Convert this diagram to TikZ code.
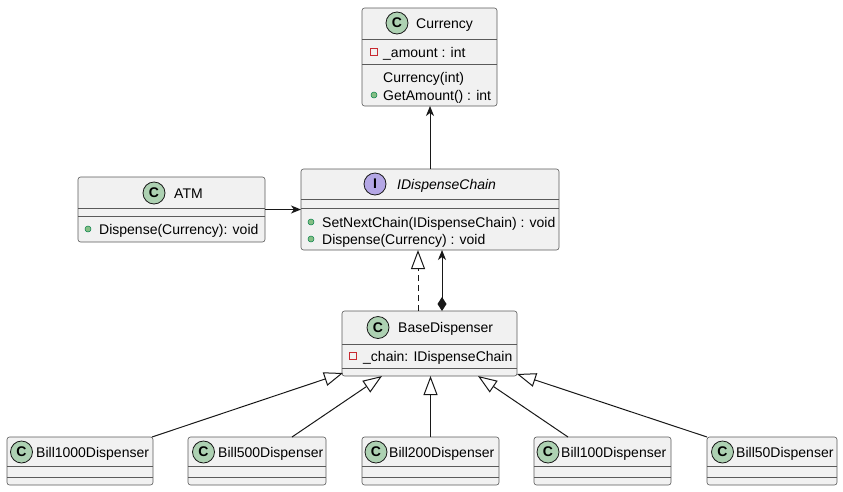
\documentclass[tikz,border=0pt]{standalone}
\usepackage{fontspec}
\setmainfont{Liberation Sans}
\usetikzlibrary{arrows.meta}
\definecolor{boxfill}{HTML}{F1F1F1}
\definecolor{boxline}{HTML}{181818}
\definecolor{frameline}{HTML}{5A5A5A}
\definecolor{classic}{HTML}{ADD1B2}
\definecolor{ific}{HTML}{B4A7E5}
\definecolor{privred}{HTML}{C82930}
\definecolor{pubfill}{HTML}{84BE84}
\definecolor{publine}{HTML}{038048}
\tikzset{
 cls/.style={draw=frameline, fill=boxfill, line width=0.6pt, rounded corners=2.5pt, anchor=north west, inner sep=0pt, outer sep=0pt},
 div/.style={draw=frameline, line width=0.6pt},
 ico/.style={circle, draw=boxline, line width=0.8pt, minimum size=22pt, inner sep=0pt, font=\fontsize{14}{14}\selectfont\bfseries},
 cico/.style={ico, fill=classic},
 iico/.style={ico, fill=ific},
 cname/.style={anchor=base west, inner sep=0pt, font=\fontsize{14}{16}\selectfont},
 mem/.style={anchor=base west, inner sep=0pt, font=\fontsize{14}{16}\selectfont},
 pub/.style={circle, fill=pubfill, draw=publine, line width=0.5pt, minimum size=6pt, inner sep=0pt},
 priv/.style={rectangle, draw=privred, line width=0.8pt, minimum size=6.5pt, inner sep=0pt},
 conn/.style={draw=boxline, line width=1pt},
 tipa/.style={-{Stealth[length=10pt,width=8pt,inset=3pt]}},
 tri/.style={-{Triangle[open,length=19pt,width=14pt,fill=white]}},
}
\begin{document}
\begin{tikzpicture}[x=1pt,y=-1pt]
\useasboundingbox (0,0) rectangle (843,491);

% Currency
\node[cls, minimum width=135pt, minimum height=98pt] (cur) at (362,8) {};
\draw[div] (362,39) -- (497,39);
\draw[div] (362,64) -- (497,64);
\node[cico] (cur-i) at (397,23) {C};
\node[cname] (cur-n) at (416,28) {Currency};
\node[priv] (cur-a1i) at (374,52) {};
\node[mem] (cur-a1) at (383,57) {\_amount : int};
\node[mem] (cur-m1) at (383,82) {Currency(int)};
\node[pub] (cur-m2i) at (374,95) {};
\node[mem] (cur-m2) at (383,100) {GetAmount() : int};

% IDispenseChain
\node[cls, minimum width=258pt, minimum height=81pt] (ids) at (301,169) {};
\draw[div] (301,199) -- (559,199);
\draw[div] (301,208) -- (559,208);
\node[iico] (ids-i) at (375,184) {I};
\node[cname, font=\fontsize{14}{16}\selectfont\itshape] (ids-n) at (397,189) {IDispenseChain};
\node[pub] (ids-m1i) at (311,222) {};
\node[mem] (ids-m1) at (322,227) {SetNextChain(IDispenseChain) : void};
\node[pub] (ids-m2i) at (311,239) {};
\node[mem] (ids-m2) at (322,244) {Dispense(Currency) : void};

% ATM
\node[cls, minimum width=187pt, minimum height=65pt] (atm) at (78,177) {};
\draw[div] (78,208) -- (265,208);
\draw[div] (78,216) -- (265,216);
\node[cico] (atm-i) at (154,193) {C};
\node[cname] (atm-n) at (174,198) {ATM};
\node[pub] (atm-m1i) at (88,229) {};
\node[mem] (atm-m1) at (99,234) {Dispense(Currency): void};

% BaseDispenser
\node[cls, minimum width=175pt, minimum height=65pt] (base) at (342,311) {};
\draw[div] (342,344) -- (517,344);
\draw[div] (342,368) -- (517,368);
\node[cico] (base-i) at (378,327.5) {C};
\node[cname] (base-n) at (398,332.5) {BaseDispenser};
\node[priv] (base-a1i) at (353,356) {};
\node[mem] (base-a1) at (363,361) {\_chain: IDispenseChain};

% Bill dispensers
\node[cls, minimum width=146pt, minimum height=48pt] (b1000) at (7,437) {};
\draw[div] (7,466) -- (153,466);
\draw[div] (7,477) -- (153,477);
\node[cico] (b1000-i) at (21.5,452) {C};
\node[cname] (b1000-n) at (36,457) {Bill1000Dispenser};

\node[cls, minimum width=138pt, minimum height=48pt] (b500) at (188,437) {};
\draw[div] (188,466) -- (326,466);
\draw[div] (188,477) -- (326,477);
\node[cico] (b500-i) at (203.5,452) {C};
\node[cname] (b500-n) at (218,457) {Bill500Dispenser};

\node[cls, minimum width=137pt, minimum height=48pt] (b200) at (362,437) {};
\draw[div] (362,466) -- (499,466);
\draw[div] (362,477) -- (499,477);
\node[cico] (b200-i) at (376,452) {C};
\node[cname] (b200-n) at (389,457) {Bill200Dispenser};

\node[cls, minimum width=137pt, minimum height=48pt] (b100) at (534,437) {};
\draw[div] (534,466) -- (671,466);
\draw[div] (534,477) -- (671,477);
\node[cico] (b100-i) at (548,452) {C};
\node[cname] (b100-n) at (561,457) {Bill100Dispenser};

\node[cls, minimum width=130pt, minimum height=48pt] (b50) at (707,437) {};
\draw[div] (707,466) -- (837,466);
\draw[div] (707,477) -- (837,477);
\node[cico] (b50-i) at (722.5,452) {C};
\node[cname] (b50-n) at (736,457) {Bill50Dispenser};

% connectors
\draw[conn, tipa] (ids.north) -- (ids.north |- cur.south);
\draw[conn, tipa] (atm.east) -- (ids.west |- atm.east);
\draw[conn, dashed, dash pattern=on 6pt off 4pt, tri] ([xshift=-11.5pt]base.north) -- ([xshift=-11.5pt]base.north |- ids.south);
\draw[conn, {Diamond[length=14pt,width=9pt]}-{Stealth[length=10pt,width=8pt,inset=3pt]}] ([xshift=12.5pt]base.north) -- ([xshift=12.5pt]base.north |- ids.south);
\draw[conn, tri] ([xshift=-1pt]b1000.north east) -- ([xshift=1pt,yshift=3pt]base.south west);
\draw[conn, tri] ([xshift=35pt]b500.north) -- ([xshift=40pt]base.south west);
\draw[conn, tri] (b200.north) -- (b200.north |- base.south);
\draw[conn, tri] ([xshift=-34.5pt]b100.north) -- ([xshift=-39pt]base.south east);
\draw[conn, tri] (b50.north west) -- ([yshift=2pt]base.south east);
\end{tikzpicture}
\end{document}
